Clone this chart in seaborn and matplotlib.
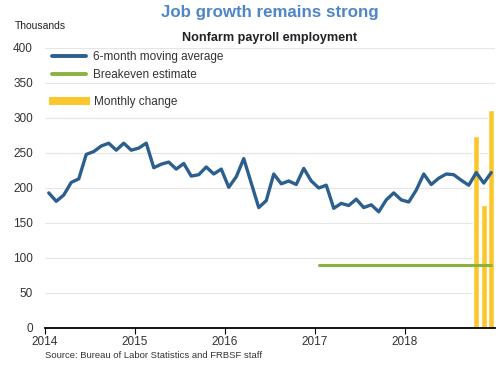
import numpy as np
import pandas as pd
import seaborn as sns
import matplotlib.pyplot as plt
from matplotlib.patches import Patch
from matplotlib.lines import Line2D

sns.set_style("white")
plt.rcParams['font.family'] = ['Liberation Sans', 'DejaVu Sans']

# 6-month moving average of nonfarm payrolls, Jan 2014 - Dec 2018 (thousands)
months = pd.date_range('2014-01-01', '2018-12-01', freq='MS')
avg = [193, 181, 190, 208, 213, 248, 252, 260, 264, 254, 264, 254,
       257, 264, 229, 234, 237, 227, 235, 217, 219, 230, 220, 227,
       201, 216, 242, 207, 172, 182, 220, 206, 210, 205, 228, 210,
       200, 204, 171, 178, 175, 184, 172, 176, 166, 183, 193, 183,
       180, 197, 220, 205, 214, 220, 219, 211, 204, 222, 207, 222]

# breakeven estimate
be_months = pd.to_datetime(['2017-01-01', '2018-12-01'])
be_values = [90, 90]

# monthly change, last three months
bar_months = pd.to_datetime(['2018-10-01', '2018-11-01', '2018-12-01'])
bar_values = [274, 176, 312]

yticks = [0, 50, 100, 150, 200, 250, 300, 350, 400]
xticks = [2014, 2015, 2016, 2017, 2018]


def dec_year(d):
    # mid-month position as a decimal year
    d = pd.DatetimeIndex(d)
    return d.year + (d.month - 0.5) / 12


df = pd.DataFrame({'x': dec_year(months), 'avg': avg})
df_be = pd.DataFrame({'x': dec_year(be_months), 'be': be_values})

blue = '#2c5f8d'
green = '#8ab23f'
gold = '#fcc62d'

fig = plt.figure(figsize=(5, 3.65), dpi=100)
ax = fig.add_axes([0.09, 0.1014, 0.90, 0.7671])

ax.bar(dec_year(bar_months), bar_values, width=0.8 / 12, color=gold, zorder=2)
sns.lineplot(data=df_be, x='x', y='be', ax=ax, color=green, lw=2.2, zorder=3)
sns.lineplot(data=df, x='x', y='avg', ax=ax, color=blue, lw=2.4, zorder=4)

ax.set_xlim(2014, 2019)
ax.set_ylim(0, 400)
ax.set_yticks(yticks)
ax.set_xticks(xticks)
ax.set_xticklabels([str(t) for t in xticks])
ax.set_xlabel('')
ax.set_ylabel('')
ax.grid(axis='y', color='#e6e6e6', lw=0.8, zorder=0)
ax.set_axisbelow(True)
for s in ['top', 'right', 'left']:
    ax.spines[s].set_visible(False)
ax.spines['bottom'].set_color('black')
ax.spines['bottom'].set_linewidth(1.3)
ax.spines['bottom'].set_zorder(5)
ax.tick_params(axis='x', length=4, width=0.8, color='black', bottom=True,
               labelsize=8.5, labelcolor='#333333', pad=2)
ax.tick_params(axis='y', length=0, labelsize=8.5, labelcolor='#333333', pad=8.6)

# legend: two lines, then the bar patch set a bit lower
leg1 = ax.legend([Line2D([0], [0], color=blue, lw=2.8),
                  Line2D([0], [0], color=green, lw=2.8)],
                 ['6-month moving average', 'Breakeven estimate'],
                 loc='center left', bbox_to_anchor=(52.3 / 500, 1 - 66 / 365),
                 bbox_transform=fig.transFigure, frameon=False, fontsize=8.5,
                 handlelength=2.88, labelspacing=0.52, handletextpad=0.59,
                 borderpad=0, borderaxespad=0)
for t in leg1.get_texts():
    t.set_color('#333333')
ax.add_artist(leg1)

leg2 = ax.legend([Patch(facecolor=gold, edgecolor='none')], ['Monthly change'],
                 loc='center left', bbox_to_anchor=(49.3 / 500, 1 - 102 / 365),
                 bbox_transform=fig.transFigure, frameon=False, fontsize=8.5,
                 handlelength=3.47, handleheight=0.6, handletextpad=0.28,
                 borderpad=0, borderaxespad=0)
for t in leg2.get_texts():
    t.set_color('#333333')

fig.text(0.54, 0.965, 'Job growth remains strong', ha='center', va='center',
         fontsize=12.2, fontweight='bold', color='#4f86c6')
fig.text(0.54, 0.895, 'Nonfarm payroll employment', ha='center', va='center',
         fontsize=9.1, fontweight='bold', color='#222222')
fig.text(0.03, 0.928, 'Thousands', ha='left', va='center', fontsize=7.5,
         color='#222222')
fig.text(0.09, 0.027, 'Source: Bureau of Labor Statistics and FRBSF staff',
         ha='left', va='center', fontsize=6.8, color='#333333')

fig.savefig('out.png', dpi=100)
